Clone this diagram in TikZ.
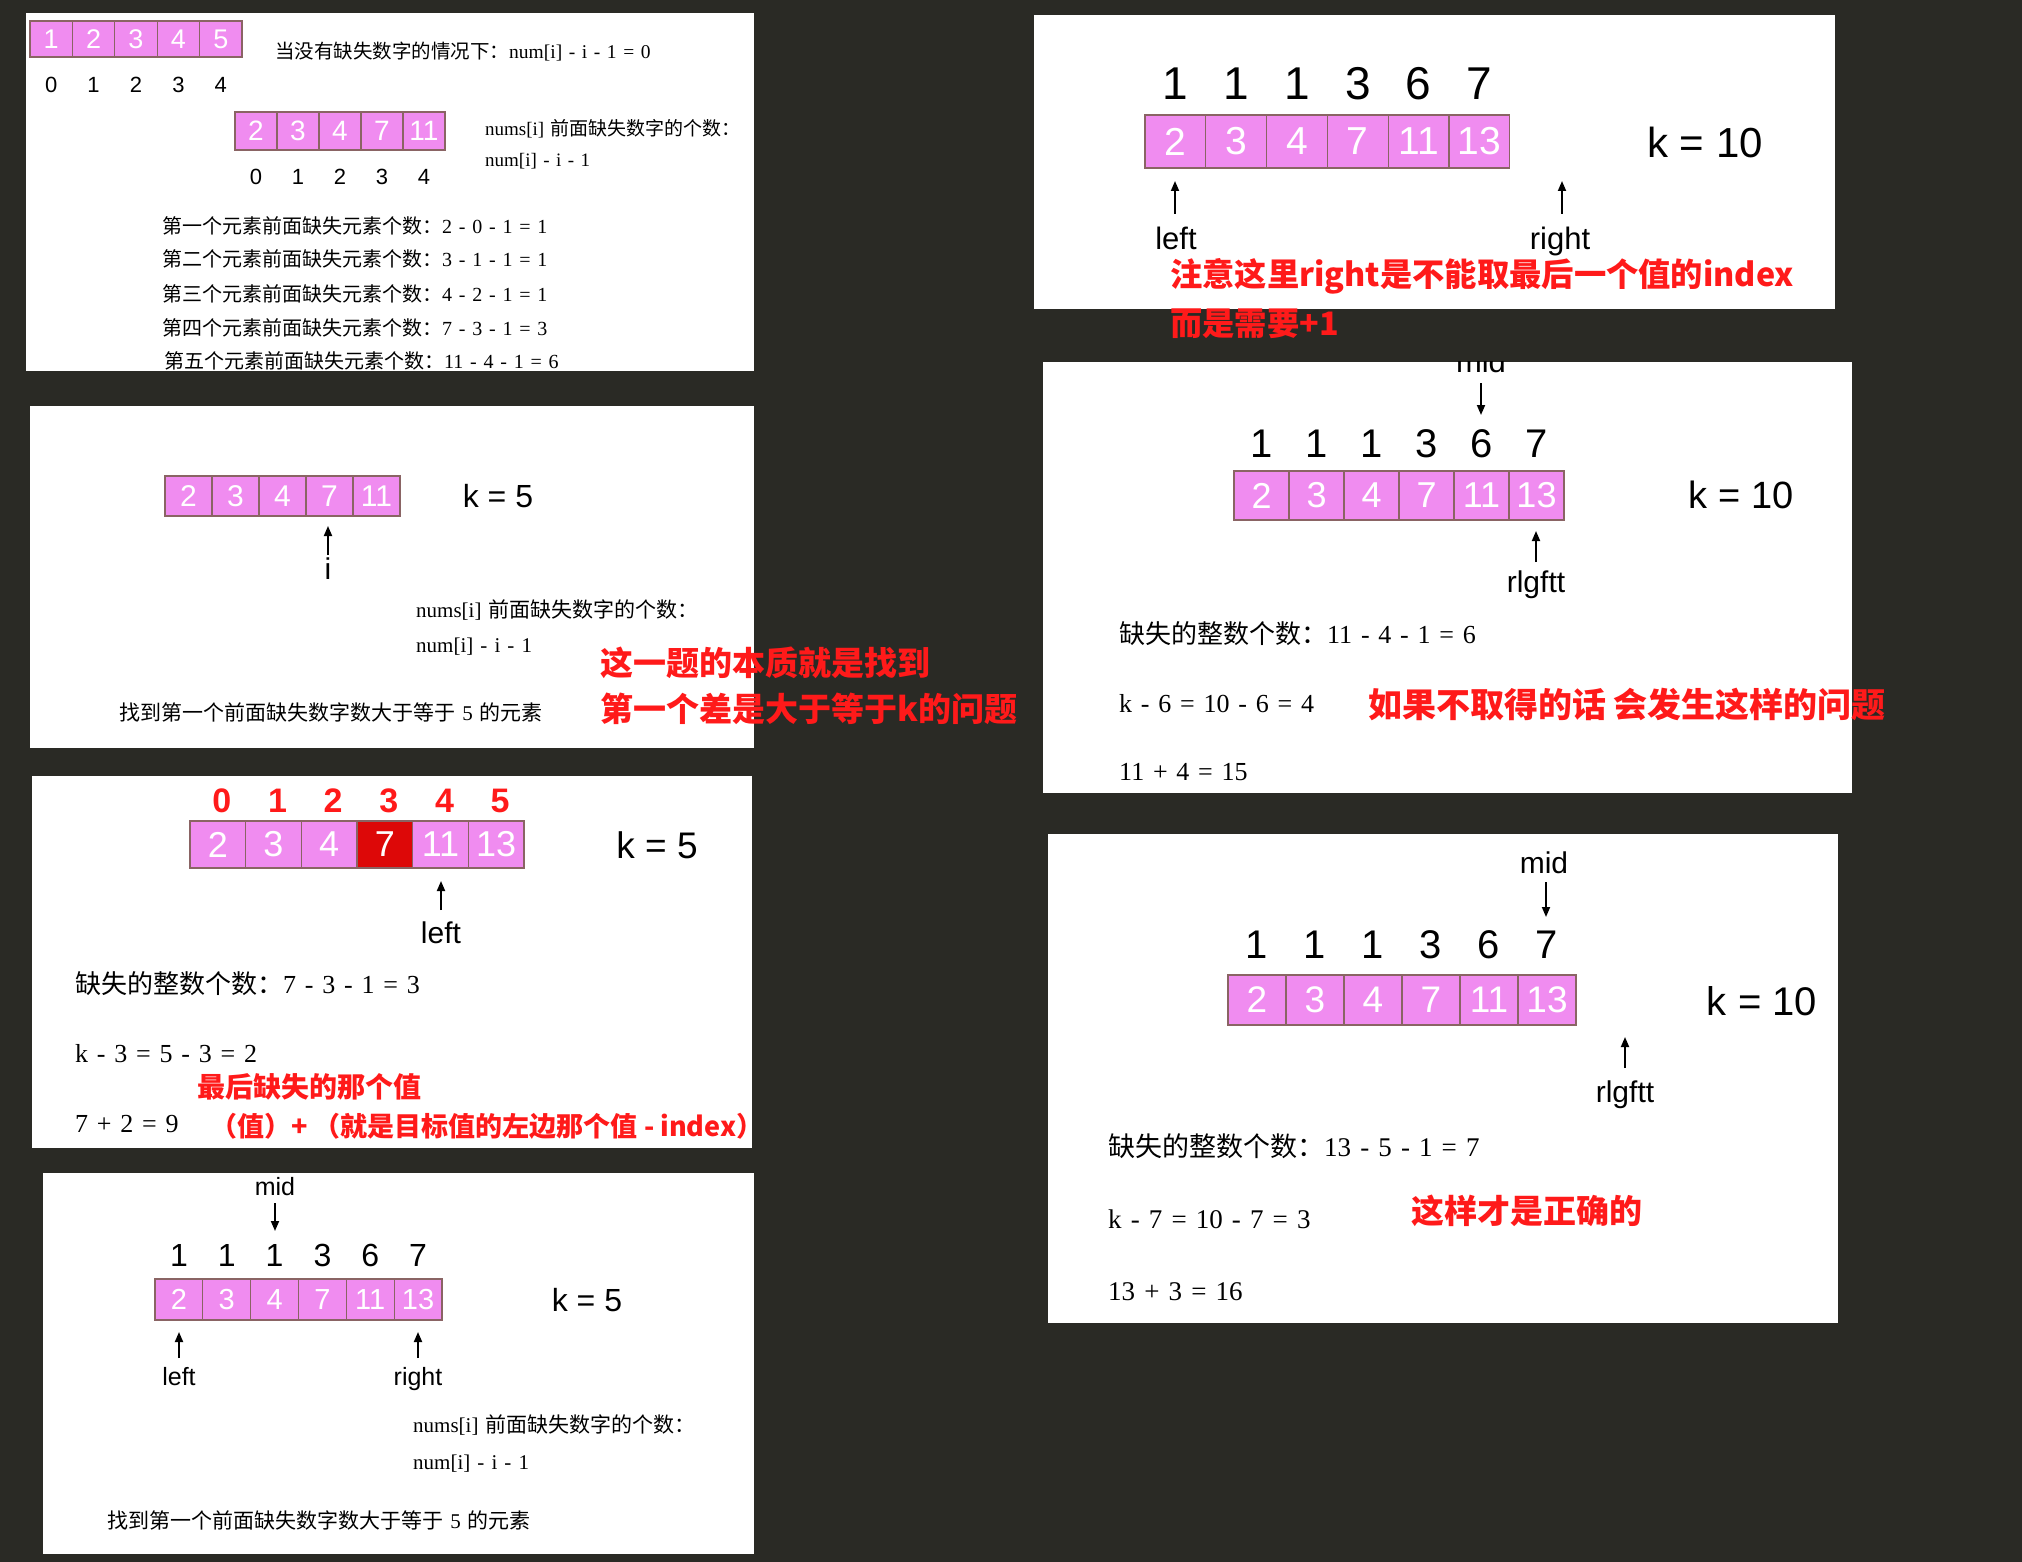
\documentclass[tikz,border=0pt]{standalone}
\usepackage{fontspec}
\setmainfont{Liberation Serif}[WordSpace=1.35]
\setsansfont{Liberation Sans}
\newfontfamily\cjk{Noto Sans CJK SC}
\usetikzlibrary{arrows.meta}
\definecolor{bgc}{HTML}{2A2A25}
\definecolor{pinkc}{HTML}{F08CF0}
\definecolor{brdc}{HTML}{8A6464}
\definecolor{redc}{HTML}{FF1A1A}
\definecolor{darkred}{HTML}{DD0808}
\newcommand\fs[1]{\fontsize{#1}{#1}\selectfont}
% #1 prefix, #2 x left, #3 y centre, #4 cell w, #5 cell h, #6 font size, #7 list
\newcommand\myarr[7]{\foreach \v [count=\i] in {#7} {\node[cell, minimum width=#4pt, minimum height=#5pt, font=\sffamily\fs{#6}] (#1\i) at ({#2+(\i-0.5)*#4},#3) {\v};}}
% #1 prefix, #2 x left, #3 cell w, #4 y, #5 font size, #6 list
\newcommand\mytop[6]{\foreach \v [count=\i] in {#6} {\node[lbl, font=\sffamily\fs{#5}] (#1\i) at ({#2+(\i-0.5)*#3},#4) {\v};}}
\tikzset{
 panel/.style={fill=white, draw=none},
 cell/.style={draw=brdc, fill=pinkc, line width=1.3pt, inner sep=0pt, text=white},
 ptr/.style={line width=1.8pt, -{Triangle[length=10pt,width=8pt]}},
 lbl/.style={inner sep=0pt, text=black},
 txt/.style={inner sep=0pt, anchor=west, text=black},
 note/.style={inner sep=0pt, anchor=west, text=redc, font=\cjk\bfseries\fs{33}},
}
\begin{document}
\begin{tikzpicture}[x=1pt,y=-1pt]
\useasboundingbox (0,0) rectangle (2022,1562);
\fill[bgc] (0,0) rectangle (2022,1562);
% panels
\fill[panel] (26,13) rectangle (754,371);
\fill[panel] (1034,15) rectangle (1835,309);
\fill[panel] (30,406) rectangle (754,748);
\fill[panel] (1043,362) rectangle (1852,793);
\fill[panel] (32,776) rectangle (752,1148);
\fill[panel] (1048,834) rectangle (1838,1323);
\fill[panel] (43,1173) rectangle (754,1554);

% ---------- panel 1 ----------
\myarr{pa}{30}{39}{42.4}{36}{27}{1,2,3,4,5}
\mytop{pai}{30}{42.4}{85}{22}{0,1,2,3,4}
\myarr{pb}{235}{131}{42}{38}{28}{2,3,4,7,11}
\mytop{pbi}{235}{42}{177}{22}{0,1,2,3,4}
\node[txt, font=\fs{19.5}] (t1a) at (275,52) {{\cjk 当没有缺失数字的情况下：}num[i] - i - 1 = 0};
\node[txt, font=\fs{19}] (t1b) at (485,129) {nums[i] {\cjk 前面缺失数字的个数：}};
\node[txt, font=\fs{19}] (t1c) at (485,161) {num[i] - i - 1};
\node[txt, font=\fs{20}] (t1d) at (162,226) {{\cjk 第一个元素前面缺失元素个数：}2 - 0 - 1 = 1};
\node[txt, font=\fs{20}] (t1e) at (162,259) {{\cjk 第二个元素前面缺失元素个数：}3 - 1 - 1 = 1};
\node[txt, font=\fs{20}] (t1f) at (162,294) {{\cjk 第三个元素前面缺失元素个数：}4 - 2 - 1 = 1};
\node[txt, font=\fs{20}] (t1g) at (162,328) {{\cjk 第四个元素前面缺失元素个数：}7 - 3 - 1 = 3};
\node[txt, font=\fs{20}] (t1h) at (164,361) {{\cjk 第五个元素前面缺失元素个数：}11 - 4 - 1 = 6};

% ---------- panel 2 ----------
\mytop{p2n}{1145}{60.8}{84}{46}{1,1,1,3,6,7}
\myarr{p2c}{1145}{141.5}{60.8}{53}{39}{2,3,4,7,11,13}
\node[lbl, font=\sffamily\fs{42}] (p2k) at (1705,142) {k = 10};
\coordinate (p2la) at (1175,214); \coordinate (p2lb) at (1175,181);
\coordinate (p2ra) at (1562,214); \coordinate (p2rb) at (1562,181);
\draw[ptr] (p2la) -- (p2lb);
\draw[ptr] (p2ra) -- (p2rb);
\node[lbl, anchor=base, font=\sffamily\fs{31}] (p2l) at (1176,250) {left};
\node[lbl, anchor=base, font=\sffamily\fs{31}] (p2r) at (1560,250) {right};
\node[note, font=\cjk\bfseries\fs{32.3}] (p2m1) at (1170,276) {注意这里right是不能取最后一个值的index};
\node[note, font=\cjk\bfseries\fs{32.3}] (p2m2) at (1170,324) {而是需要+1};

% ---------- panel 3 ----------
\myarr{p3c}{165}{496}{47}{40}{30}{2,3,4,7,11}
\node[lbl, font=\sffamily\fs{32}] (p3k) at (498,496) {k = 5};
\coordinate (p3a) at (328,555); \coordinate (p3b) at (328,526);
\draw[ptr] (p3a) -- (p3b);
\node[lbl, anchor=base, font=\sffamily\fs{30}] (p3i) at (328,579) {i};
\node[txt, font=\fs{21}] (p3t1) at (416,610) {nums[i] {\cjk 前面缺失数字的个数：}};
\node[txt, font=\fs{21}] (p3t2) at (416,647) {num[i] - i - 1};
\node[txt, font=\fs{21}] (p3t3) at (119,712) {{\cjk 找到第一个前面缺失数字数大于等于} 5 {\cjk 的元素}};
\node[note] (p3m1) at (600,663) {这一题的本质就是找到};
\node[note] (p3m2) at (600,709) {第一个差是大于等于k的问题};

% ---------- panel 4 ----------
\begin{scope}
\clip (1043,362) rectangle (1852,793);
\node[lbl, anchor=base, font=\sffamily\fs{31}] (p4mid) at (1481,372) {mid};
\end{scope}
\coordinate (p4da) at (1481,383); \coordinate (p4db) at (1481,415);
\draw[ptr] (p4da) -- (p4db);
\mytop{p4n}{1234}{55}{444}{40}{1,1,1,3,6,7}
\myarr{p4c}{1234}{495.5}{55}{49}{36}{2,3,4,7,11,13}
\node[lbl, font=\sffamily\fs{38}] (p4k) at (1741,495) {k = 10};
\coordinate (p4ua) at (1536,562); \coordinate (p4ub) at (1536,531);
\draw[ptr] (p4ua) -- (p4ub);
\node[lbl, anchor=base, font=\sffamily\fs{30}] (p4r) at (1536,592) {rlgftt};
\node[txt, font=\fs{26}] (p4t1) at (1119,634) {{\cjk 缺失的整数个数：}11 - 4 - 1 = 6};
\node[txt, font=\fs{26}] (p4t2) at (1119,704) {k - 6 = 10 - 6 = 4};
\node[txt, font=\fs{26}] (p4t3) at (1119,772) {11 + 4 = 15};
\node[note, font=\cjk\bfseries\fs{34}] (p4m) at (1368,704) {如果不取得的话 会发生这样的问题};

% ---------- panel 5 ----------
\foreach \v [count=\i] in {0,1,2,3,4,5}
  \node[lbl, text=redc, font=\sffamily\bfseries\fs{34}] (p5n\i) at ({194+(\i-0.5)*55.67},801) {\v};
\foreach \v [count=\i] in {2,3,4,7,11,13} {
  \ifnum\i=4 \def\fc{darkred}\else\def\fc{pinkc}\fi
  \node[cell, fill=\fc, minimum width=55.67pt, minimum height=47pt, font=\sffamily\fs{36}] (p5c\i) at ({190+(\i-0.5)*55.67},844.5) {\v};
}
\node[lbl, font=\sffamily\fs{37}] (p5k) at (657,845) {k = 5};
\coordinate (p5a) at (441,910); \coordinate (p5b) at (441,881);
\draw[ptr] (p5a) -- (p5b);
\node[lbl, anchor=base, font=\sffamily\fs{30}] (p5l) at (441,943) {left};
\node[txt, font=\fs{26}] (p5t1) at (75,984) {{\cjk 缺失的整数个数：}7 - 3 - 1 = 3};
\node[txt, font=\fs{26}] (p5t2) at (75,1054) {k - 3 = 5 - 3 = 2};
\node[txt, font=\fs{26}] (p5t3) at (75,1124) {7 + 2 = 9};
\node[note, font=\cjk\bfseries\fs{28}] (p5m1) at (197,1087) {最后缺失的那个值};
\node[note, font=\cjk\bfseries\fs{27}] (p5m2) at (210,1126) {（值）+ （就是目标值的左边那个值 - index）};

% ---------- panel 6 ----------
\node[lbl, anchor=base, font=\sffamily\fs{30}] (p6mid) at (1544,873) {mid};
\coordinate (p6da) at (1546,882); \coordinate (p6db) at (1546,917);
\draw[ptr] (p6da) -- (p6db);
\mytop{p6n}{1228}{58}{945}{40}{1,1,1,3,6,7}
\myarr{p6c}{1228}{1000}{58}{50}{37}{2,3,4,7,11,13}
\node[lbl, font=\sffamily\fs{40}] (p6k) at (1762,1001) {k = 10};
\coordinate (p6ua) at (1625,1068); \coordinate (p6ub) at (1625,1037);
\draw[ptr] (p6ua) -- (p6ub);
\node[lbl, anchor=base, font=\sffamily\fs{30}] (p6r) at (1625,1102) {rlgftt};
\node[txt, font=\fs{27}] (p6t1) at (1108,1146) {{\cjk 缺失的整数个数：}13 - 5 - 1 = 7};
\node[txt, font=\fs{27}] (p6t2) at (1108,1219) {k - 7 = 10 - 7 = 3};
\node[txt, font=\fs{27}] (p6t3) at (1108,1292) {13 + 3 = 16};
\node[note] (p6m) at (1411,1211) {这样才是正确的};

% ---------- panel 7 ----------
\node[lbl, anchor=base, font=\sffamily\fs{25}] (p7mid) at (275,1195) {mid};
\coordinate (p7da) at (275,1203); \coordinate (p7db) at (275,1231);
\draw[ptr] (p7da) -- (p7db);
\mytop{p7n}{155}{47.83}{1255}{32}{1,1,1,3,6,7}
\myarr{p7c}{155}{1299.5}{47.83}{41}{29}{2,3,4,7,11,13}
\node[lbl, font=\sffamily\fs{32}] (p7k) at (587,1300) {k = 5};
\coordinate (p7la) at (179,1358); \coordinate (p7lb) at (179,1332);
\coordinate (p7ra) at (418,1358); \coordinate (p7rb) at (418,1332);
\draw[ptr] (p7la) -- (p7lb);
\draw[ptr] (p7ra) -- (p7rb);
\node[lbl, anchor=base, font=\sffamily\fs{25}] (p7l) at (179,1385) {left};
\node[lbl, anchor=base, font=\sffamily\fs{25}] (p7r) at (418,1385) {right};
\node[txt, font=\fs{21}] (p7t1) at (413,1425) {nums[i] {\cjk 前面缺失数字的个数：}};
\node[txt, font=\fs{21}] (p7t2) at (413,1464) {num[i] - i - 1};
\node[txt, font=\fs{21}] (p7t3) at (107,1520) {{\cjk 找到第一个前面缺失数字数大于等于} 5 {\cjk 的元素}};
\end{tikzpicture}
\end{document}
